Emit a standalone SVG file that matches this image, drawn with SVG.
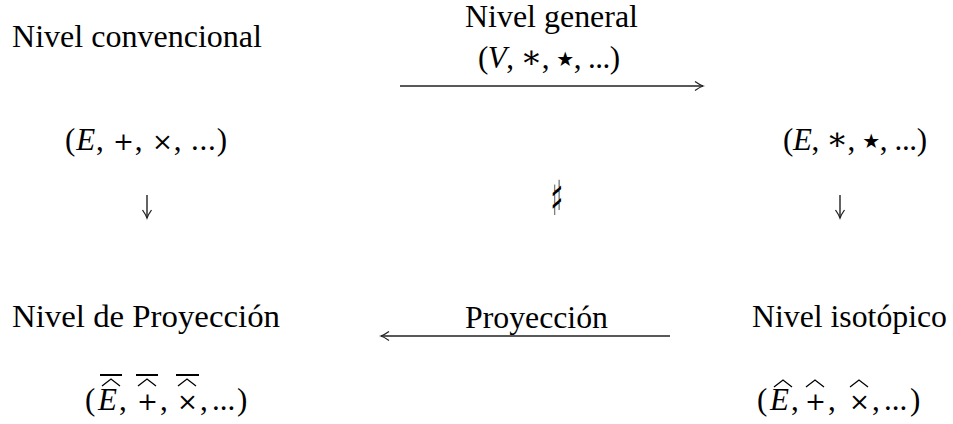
<svg xmlns="http://www.w3.org/2000/svg" width="953" height="424" viewBox="0 0 953 424">
<style>
.t{font-family:'Liberation Serif','DejaVu Serif',serif;font-size:31px;fill:#000}
.it{font-style:italic}
.op{font-family:'DejaVu Serif',serif;font-size:25px}
.ast{font-family:'DejaVu Serif',serif;font-size:32px}
.star{font-family:'DejaVu Sans',sans-serif;font-size:20px}
.sharp{font-family:'DejaVu Serif',serif;font-size:44px}
.conn{stroke:#222;stroke-width:1.4;fill:none}
.acc{stroke:#000;stroke-width:1.3;fill:none}
.bar{stroke:#000;stroke-width:2}
</style>
<defs>
<marker id="ah" markerWidth="12" markerHeight="12" refX="9" refY="6" orient="auto" markerUnits="userSpaceOnUse">
<path d="M1,1.5 Q6,5 9,6 Q6,7 1,10.5" fill="none" stroke="#222" stroke-width="1.3"/>
</marker>
</defs>
<rect width="953" height="424" fill="#fff"/>
<g id="connectors">
<line class="conn" x1="400" y1="86" x2="703" y2="86" marker-end="url(#ah)"/>
<line class="conn" x1="670" y1="336" x2="381" y2="336" marker-end="url(#ah)"/>
<line class="conn" x1="147" y1="195" x2="147" y2="218" marker-end="url(#ah)"/>
<line class="conn" x1="840" y1="195" x2="840" y2="218" marker-end="url(#ah)"/>
</g>
<g id="nivel-convencional">
<text class="t" x="12" y="47" textLength="250" lengthAdjust="spacingAndGlyphs">Nivel convencional</text>
<text class="t" x="65" y="150" textLength="162" lengthAdjust="spacing">(<tspan class="it">E</tspan>, <tspan class="op">+</tspan>, <tspan class="op">×</tspan>, ...)</text>
</g>
<g id="nivel-general">
<text class="t" x="465" y="27" textLength="173" lengthAdjust="spacingAndGlyphs">Nivel general</text>
<text class="t" x="478" y="68" textLength="142" lengthAdjust="spacing">(<tspan class="it">V</tspan>, <tspan class="ast">∗</tspan>, <tspan class="star" dy="-2">★</tspan><tspan dy="2">, ...)</tspan></text>
</g>
<g id="nivel-isotopico-top">
<text class="t" x="783" y="150" textLength="144" lengthAdjust="spacing">(<tspan class="it">E</tspan>, <tspan class="ast">∗</tspan>, <tspan class="star" dy="-2">★</tspan><tspan dy="2">, ...)</tspan></text>
</g>
<g id="sharp">
<text class="sharp" x="0" y="0" text-anchor="middle" transform="translate(557 215) scale(0.6 1.1)">♯</text>
</g>
<g id="nivel-proyeccion">
<text class="t" x="12" y="327" textLength="268" lengthAdjust="spacingAndGlyphs">Nivel de Proyección</text>
<text class="t" y="410"><tspan x="85">(</tspan><tspan class="it" x="98">E</tspan><tspan x="119">,</tspan><tspan class="op" x="137">+</tspan><tspan x="160">,</tspan><tspan class="op" x="177">×</tspan><tspan x="200">,</tspan><tspan x="212">...</tspan><tspan x="237">)</tspan></text>
<polyline class="acc" points="102,386 111,379 120,386"/>
<polyline class="acc" points="138,386 147,379 156,386"/>
<polyline class="acc" points="178,386 187,379 196,386"/>
<line class="bar" x1="100" y1="375" x2="122" y2="375"/>
<line class="bar" x1="136" y1="375" x2="158" y2="375"/>
<line class="bar" x1="176" y1="375" x2="199" y2="375"/>
</g>
<g id="proyeccion-label">
<text class="t" x="465" y="328" textLength="143" lengthAdjust="spacingAndGlyphs">Proyección</text>
</g>
<g id="nivel-isotopico">
<text class="t" x="752" y="327" textLength="195" lengthAdjust="spacingAndGlyphs">Nivel isotópico</text>
<text class="t" y="410"><tspan x="757">(</tspan><tspan class="it" x="770">E</tspan><tspan x="791">,</tspan><tspan class="op" x="805">+</tspan><tspan x="828">,</tspan><tspan class="op" x="849">×</tspan><tspan x="872">,</tspan><tspan x="884">...</tspan><tspan x="910">)</tspan></text>
<polyline class="acc" points="774,387 783,380 792,387"/>
<polyline class="acc" points="806,387 815,380 824,387"/>
<polyline class="acc" points="850,387 859,380 868,387"/>
</g>
</svg>
